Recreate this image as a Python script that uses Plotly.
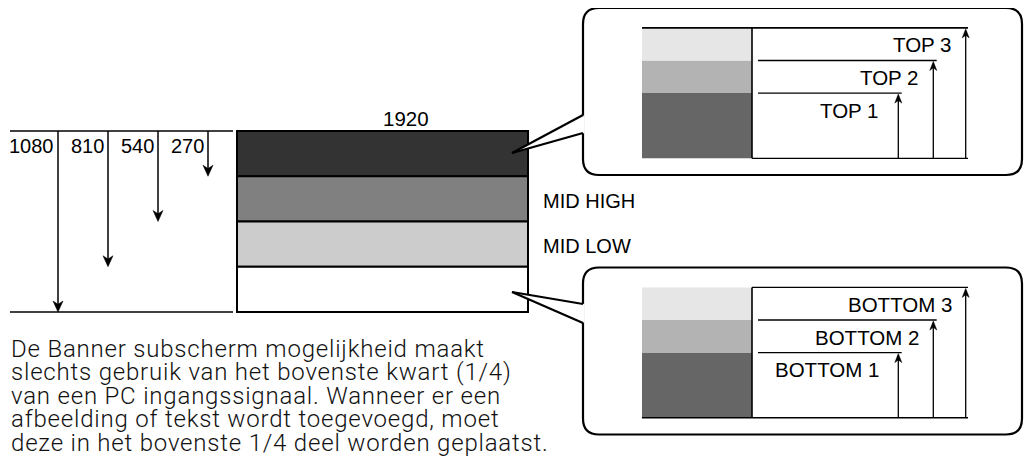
import plotly.graph_objects as go

# ---------------- data ----------------
vertical_resolution = 1080
horizontal_label = "1920"
split_values = [1080, 810, 540, 270]
split_labels = ["1080", "810", "540", "270"]
band_names = ["TOP", "MID HIGH", "MID LOW", "BOTTOM"]
band_colors = ["#333333", "#808080", "#cccccc", "#ffffff"]
show_band_label = [False, True, True, False]
top_levels = ["TOP 1", "TOP 2", "TOP 3"]
bottom_levels = ["BOTTOM 1", "BOTTOM 2", "BOTTOM 3"]
level_fractions = [0.5, 0.75, 1.0]
inner_bounds = [0.0, 0.5, 0.75, 1.0]
inner_colors = ["#666666", "#b3b3b3", "#e6e6e6"]
paragraph_lines = [
    "De Banner subscherm mogelijkheid maakt",
    "slechts gebruik van het bovenste kwart (1/4)",
    "van een PC ingangssignaal. Wanneer er een",
    "afbeelding of tekst wordt toegevoegd, moet",
    "deze in het bovenste 1/4 deel worden geplaatst.",
]

# ---------------- layout geometry ----------------
W, H = 1033, 466
PAGE_MARGIN = 8  # default body margin of the html page
FONT = "Liberation Sans, Arial, sans-serif"
PARA_FONT = "Roboto, Liberation Sans, sans-serif"
shapes = []
annotations = []


def line(x0, y0, x1, y1, w=1.0, c="black"):
    shapes.append(dict(type="line", xref="x", yref="y", x0=x0, y0=y0, x1=x1, y1=y1,
                       line=dict(color=c, width=w)))


def rect(x0, y0, x1, y1, fill, w=0, c="black"):
    shapes.append(dict(type="rect", xref="x", yref="y", x0=x0, y0=y0, x1=x1, y1=y1,
                       fillcolor=fill, line=dict(color=c, width=w)))


def path(d, fill="rgba(0,0,0,0)", w=0, c="black"):
    shapes.append(dict(type="path", xref="x", yref="y", path=d, fillcolor=fill,
                       line=dict(color=c, width=w)))


def arrowhead(x, y, direction, length, width):
    notch = length * 0.3
    d = (f"M {x},{y} L {x - width / 2},{y - direction * length} "
         f"L {x},{y - direction * (length - notch)} "
         f"L {x + width / 2},{y - direction * length} Z")
    path(d, fill="black", w=0.5)


def text(x, y, s, xanchor="left", size=20.5, color="black", pad=1, family=FONT, weight=400):
    annotations.append(dict(x=x, y=y, xref="x", yref="y", text=s, showarrow=False,
                            xanchor=xanchor, yanchor="middle", borderpad=pad,
                            font=dict(family=family, size=size, color=color, weight=weight)))


# main screen rectangle
MX0, MX1, MY0, MY1 = 237, 528, 131, 312


def my(v):
    return MY0 + v / vertical_resolution * (MY1 - MY0)


n_bands = len(band_names)
for i, (name, col, show) in enumerate(zip(band_names, band_colors, show_band_label)):
    y0 = my(i * vertical_resolution / n_bands)
    y1 = my((i + 1) * vertical_resolution / n_bands)
    rect(MX0, y0, MX1, y1, col, w=2)
    if show:
        text(MX1 + 13, (y0 + y1) / 2 + 2, name, size=20)

text((MX0 + MX1) / 2 - 2, MY0 - 13, horizontal_label)

# left dimension lines
line(10, my(0), 233, my(0), w=1.5)
line(10, my(vertical_resolution), 233, my(vertical_resolution), w=1.5)
for i, (v, lab) in enumerate(zip(split_values, split_labels)):
    x = 58 + i * 50
    tip = my(v)
    line(x, my(0), x, tip - 4, w=1.5)
    arrowhead(x, tip, 1, 11, 10)
    text(x - 3.5, my(0) + 15, lab, xanchor="right", size=20, pad=0)

# paragraph
for k, s in enumerate(paragraph_lines):
    text(9.5, 348.5 + k * 23.5, '<span style="letter-spacing:0.8px">' + s + '</span>',
         size=24, color="#111111", pad=0, family=PARA_FONT, weight=300)


# ---------------- callout bubbles ----------------
def bubble(yoff, labels, edge_top, tip, edge_pts):
    bx0, bx1, by0, by1, r = 583, 1022, 8 + yoff, 175 + yoff, 16
    d = (f"M {bx0 + r},{by0} L {bx1 - r},{by0} Q {bx1},{by0} {bx1},{by0 + r} "
         f"L {bx1},{by1 - r} Q {bx1},{by1} {bx1 - r},{by1} L {bx0 + r},{by1} "
         f"Q {bx0},{by1} {bx0},{by1 - r} L {bx0},{by0 + r} Q {bx0},{by0} {bx0 + r},{by0} Z")
    path(d, fill="white", w=2.2)
    # pointer
    (ex, ey0), (_, ey1) = edge_pts
    path(f"M {ex + 1.5},{ey0} L {tip[0]},{tip[1]} L {ex + 1.5},{ey1} Z", fill="white", w=0)
    line(ex, ey0, tip[0], tip[1], w=2.2)
    line(tip[0], tip[1], ex, ey1, w=2.2)

    sx0, sx1 = 642, 752
    base = 158.3 + yoff
    Hs = 130.4
    for f0, f1, col in zip(inner_bounds[:-1], inner_bounds[1:], inner_colors):
        rect(sx0, base - f1 * Hs, sx1, base - f0 * Hs, col)
    top = base - Hs
    # frame lines
    line(sx0 if edge_top else sx1, top, 968, top, w=1.6 if edge_top else 1.3)
    line(sx1 if edge_top else sx0, base, 968, base, w=1.3 if edge_top else 1.6)
    line(sx1, top, sx1, base, w=1.6)
    arrow_x = [898.3, 933.3, 965.7]
    gaps = [18, 13, 13]
    ends = [901.7, 936.7, 968]
    for lab, f, ax, g, e in zip(labels, level_fractions, arrow_x, gaps, ends):
        ly = base - f * Hs
        if f < 1.0:
            line(758, ly, e, ly, w=1.3)
        line(ax, base, ax, ly + 3, w=1.3)
        arrowhead(ax, ly + 1, -1, 9, 7)
        text(ax - g + 1, ly + 17, lab, xanchor="right")


bubble(0, top_levels, True, (512, 153), ((583, 115), (583, 133)))
bubble(259.5, bottom_levels, False, (512, 292), ((583, 304), (583, 323)))

fig = go.Figure()
fig.update_layout(
    width=W - 2 * PAGE_MARGIN, height=H - 2 * PAGE_MARGIN, autosize=False,
    margin=dict(l=0, r=0, t=0, b=0),
    paper_bgcolor="white", plot_bgcolor="white",
    xaxis=dict(range=[PAGE_MARGIN, W - PAGE_MARGIN], visible=False, fixedrange=True),
    yaxis=dict(range=[H - PAGE_MARGIN, PAGE_MARGIN], visible=False, fixedrange=True),
    shapes=shapes, annotations=annotations, showlegend=False,
)
fig.write_html("out.html")
